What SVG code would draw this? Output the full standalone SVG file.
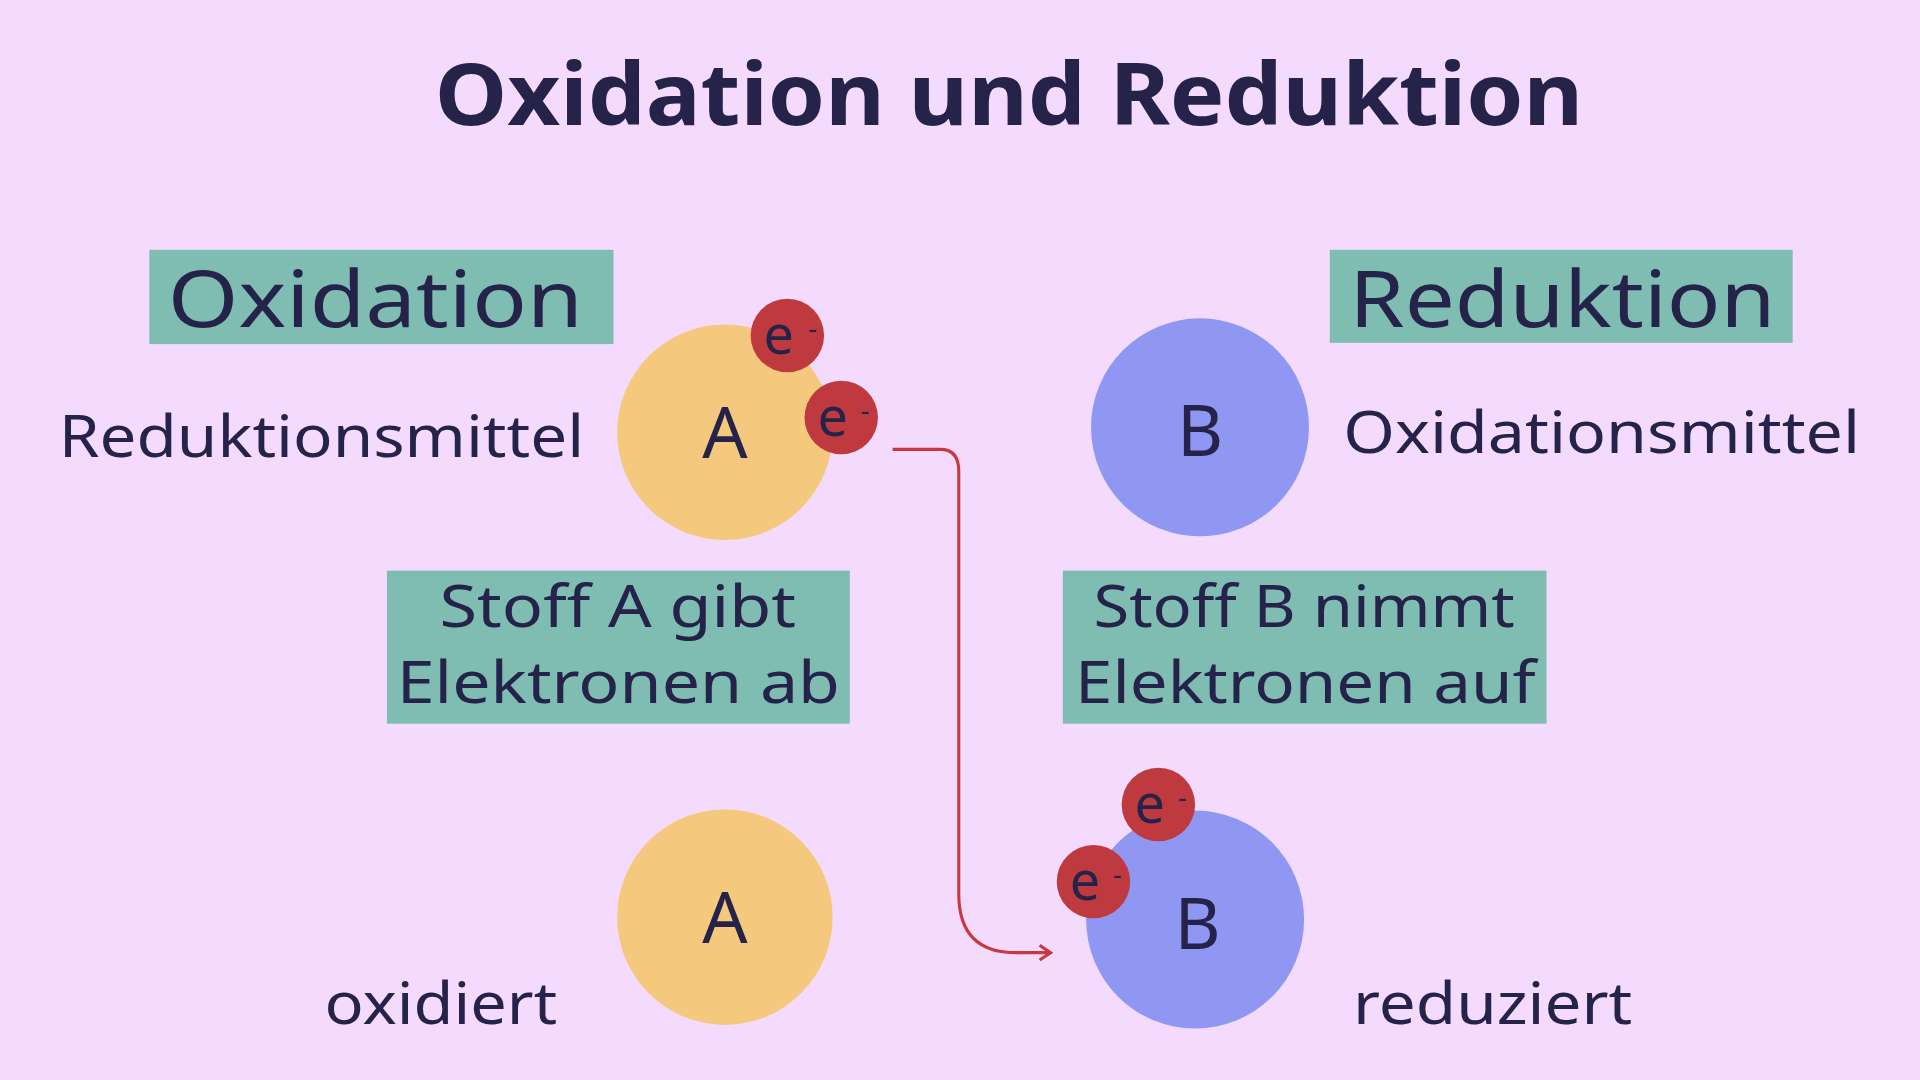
<svg xmlns="http://www.w3.org/2000/svg" width="1920" height="1080" viewBox="0 0 1920 1080">
<defs>
<style>
.t{font-family:"Noto Sans","DejaVu Sans",sans-serif;fill:#25234a}
.box{fill:#7fbdb3}
.a{fill:#f5c97d}.b{fill:#8f97f3}.e{fill:#bf3a3f}
.et{font-family:"Noto Sans",sans-serif;fill:#25234a;font-size:44px}
.es{font-family:"Noto Sans",sans-serif;fill:#25234a;font-size:22px}
</style>
<marker id="arr" markerWidth="12" markerHeight="14" refX="10" refY="7" orient="auto" markerUnits="userSpaceOnUse">
<path d="M1,1 L10,7 L1,13" fill="none" stroke="#c8383e" stroke-width="2.5"/>
</marker>
</defs>
<rect width="1920" height="1080" fill="#f4dafc"/>
<g transform="scale(1.22449)">
<text class="t" x="824" y="102" text-anchor="middle" font-size="70" font-weight="bold" textLength="938" lengthAdjust="spacingAndGlyphs">Oxidation und Reduktion</text>
<g id="oxidation-label"><rect class="box" x="122" y="204" width="379" height="77"/><text class="t" x="137" y="267" font-size="64" textLength="339" lengthAdjust="spacingAndGlyphs">Oxidation</text></g>
<g id="reduktion-label"><rect class="box" x="1086" y="204" width="378" height="76"/><text class="t" x="1102" y="267" font-size="64" textLength="348" lengthAdjust="spacingAndGlyphs">Reduktion</text></g>
<g id="A-top"><circle class="a" cx="592" cy="353" r="88"/><text class="t" x="592" y="374" font-size="58" text-anchor="middle">A</text>
<circle class="e" cx="643" cy="274" r="30"/><text class="et" x="636" y="289" text-anchor="middle">e</text><text class="es" x="660" y="276">-</text>
<circle class="e" cx="687" cy="341" r="30"/><text class="et" x="680" y="356" text-anchor="middle">e</text><text class="es" x="703" y="343">-</text></g>
<text class="t" x="48" y="373" font-size="48" textLength="429" lengthAdjust="spacingAndGlyphs">Reduktionsmittel</text>
<g id="B-top"><circle class="b" cx="980" cy="349" r="89"/><text class="t" x="980" y="372" font-size="58" text-anchor="middle">B</text></g>
<text class="t" x="1097" y="370" font-size="48" textLength="422" lengthAdjust="spacingAndGlyphs">Oxidationsmittel</text>
<g id="box-A"><rect class="box" x="316" y="466" width="378" height="125"/>
<text class="t" x="359" y="512" font-size="48" textLength="291" lengthAdjust="spacingAndGlyphs">Stoff A gibt</text>
<text class="t" x="324" y="574" font-size="48" textLength="362" lengthAdjust="spacingAndGlyphs">Elektronen ab</text></g>
<g id="box-B"><rect class="box" x="868" y="466" width="395" height="125"/>
<text class="t" x="893" y="512" font-size="48" textLength="344" lengthAdjust="spacingAndGlyphs">Stoff B nimmt</text>
<text class="t" x="878" y="574" font-size="48" textLength="376" lengthAdjust="spacingAndGlyphs">Elektronen auf</text></g>
<g id="A-bottom"><circle class="a" cx="592" cy="749" r="88"/><text class="t" x="592" y="770" font-size="58" text-anchor="middle">A</text></g>
<text class="t" x="265" y="836" font-size="48" textLength="190" lengthAdjust="spacingAndGlyphs">oxidiert</text>
<g id="B-bottom"><circle class="b" cx="976" cy="751" r="89"/><text class="t" x="978" y="775" font-size="58" text-anchor="middle">B</text>
<circle class="e" cx="946" cy="657" r="30"/><text class="et" x="939" y="672" text-anchor="middle">e</text><text class="es" x="962" y="659">-</text>
<circle class="e" cx="893" cy="720" r="30"/><text class="et" x="886" y="735" text-anchor="middle">e</text><text class="es" x="909" y="722">-</text></g>
<text class="t" x="1105" y="836" font-size="48" textLength="228" lengthAdjust="spacingAndGlyphs">reduziert</text>
<g id="connectors"><path d="M729,367 L768,367 Q783,367 783,385 L783,730 Q783,778 830,778 L858,778" fill="none" stroke="#c8383e" stroke-width="2.5" marker-end="url(#arr)"/></g>
</g>
</svg>
